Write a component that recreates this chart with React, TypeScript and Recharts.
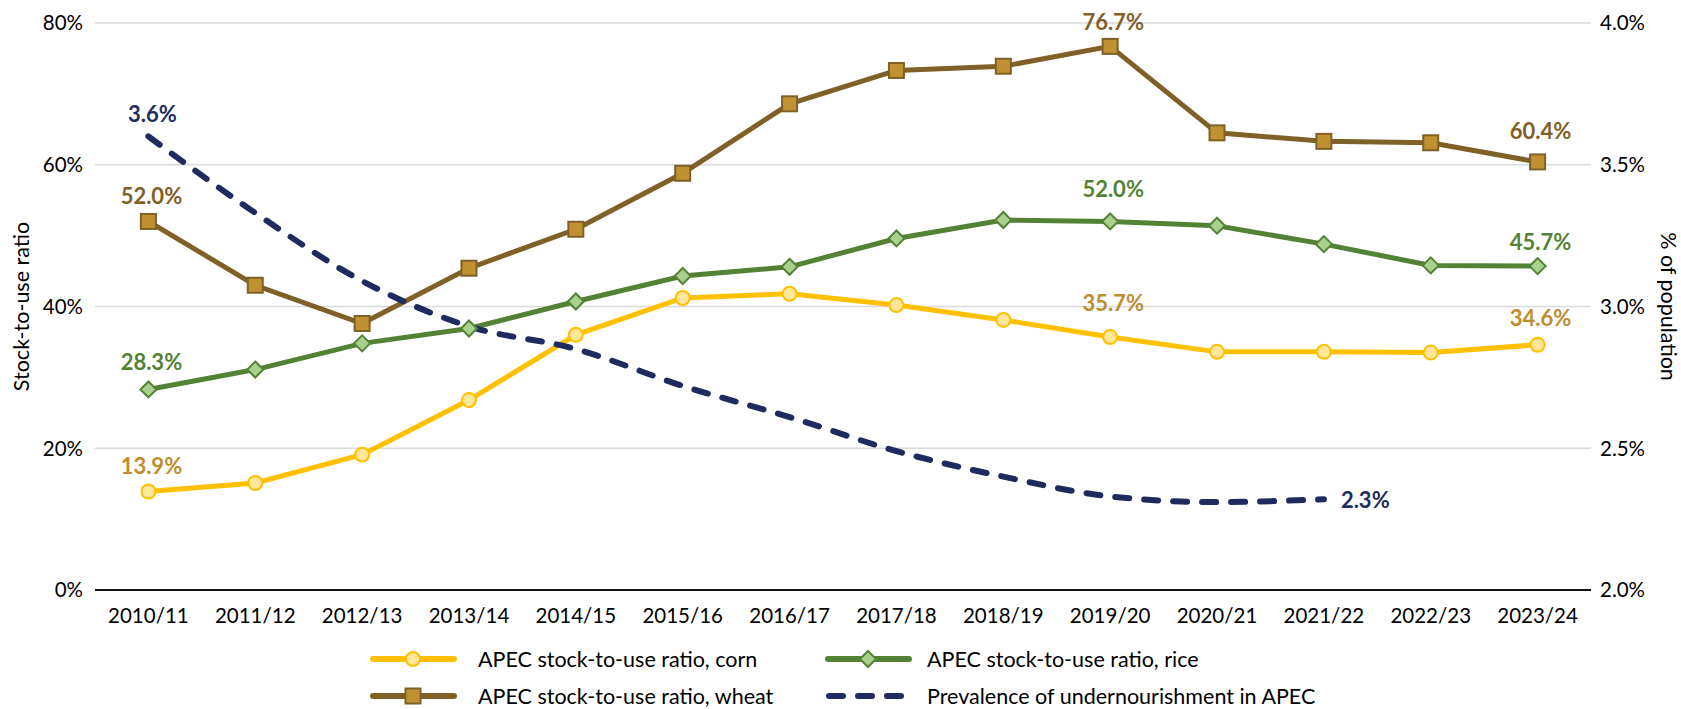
import React from "react";
import { LineChart, Line, XAxis, YAxis, CartesianGrid, LabelList, Label } from "recharts";

const seasons = [
  "2010/11", "2011/12", "2012/13", "2013/14", "2014/15", "2015/16", "2016/17",
  "2017/18", "2018/19", "2019/20", "2020/21", "2021/22", "2022/23", "2023/24",
];
const cornRatio = [13.9, 15.1, 19.1, 26.8, 36.0, 41.2, 41.8, 40.2, 38.1, 35.7, 33.6, 33.6, 33.5, 34.6];
const riceRatio = [28.3, 31.1, 34.8, 36.9, 40.7, 44.3, 45.6, 49.6, 52.2, 52.0, 51.4, 48.8, 45.8, 45.7];
const wheatRatio = [52.0, 43.0, 37.6, 45.4, 50.9, 58.8, 68.6, 73.3, 73.9, 76.7, 64.5, 63.3, 63.1, 60.4];
const undernourishment = [3.6, 3.33, 3.09, 2.93, 2.85, 2.72, 2.61, 2.49, 2.4, 2.33, 2.31, 2.32, null, null];
const leftTicks = [0, 20, 40, 60, 80];
const rightTicks = [2.0, 2.5, 3.0, 3.5, 4.0];

const data = seasons.map((season, i) => ({
  season,
  corn: cornRatio[i],
  rice: riceRatio[i],
  wheat: wheatRatio[i],
  pou: undernourishment[i],
}));

const FONT = "Lato, 'Open Sans', sans-serif";
const CORN = "#FFC000";
const CORN_FILL = "#FFE699";
const CORN_LABEL = "#BD8D2F";
const WHEAT = "#7F6128";
const WHEAT_FILL = "#BF9130";
const RICE = "#548235";
const RICE_FILL = "#A9D18E";
const NAVY = "#1F2B5E";

// which points get a value label, and how far above the point its centre sits
const cornLabels: Record<number, number> = { 0: 25, 9: 34, 13: 26 };
const riceLabels: Record<number, number> = { 0: 27, 9: 32, 13: 24 };
const wheatLabels: Record<number, number> = { 0: 25, 9: 24, 13: 31 };

function makeLabel(color: string, shown: Record<number, number>) {
  return (props: any) => {
    const { x, y, value, index } = props;
    if (!(index in shown) || value == null) return null;
    return (
      <text
        x={x + 3}
        y={y - shown[index]}
        dy="0.35em"
        textAnchor="middle"
        fill={color}
        fontFamily={FONT}
        fontWeight={700}
        fontSize={22}
      >
        {Number(value).toFixed(1)}%
      </text>
    );
  };
}

function pouLabel(props: any) {
  const { x, y, value, index } = props;
  if (value == null) return null;
  if (index === 0) {
    return (
      <text x={x + 4} y={y - 22} dy="0.35em" textAnchor="middle" fill={NAVY}
        fontFamily={FONT} fontWeight={700} fontSize={22}>
        {Number(value).toFixed(1)}%
      </text>
    );
  }
  if (index === 11) {
    return (
      <text x={x + 17} y={y + 1} dy="0.35em" textAnchor="start" fill={NAVY}
        fontFamily={FONT} fontWeight={700} fontSize={22}>
        {Number(value).toFixed(1)}%
      </text>
    );
  }
  return null;
}

function SquareDot(props: any) {
  const { cx, cy, index } = props;
  if (cx == null || cy == null) return <g key={index} />;
  return (
    <rect key={index} x={cx - 7.5} y={cy - 7.5} width={15} height={15}
      fill={WHEAT_FILL} stroke={WHEAT} strokeWidth={2} />
  );
}

function DiamondDot(props: any) {
  const { cx, cy, index } = props;
  if (cx == null || cy == null) return <g key={index} />;
  const r = 8;
  return (
    <polygon key={index}
      points={`${cx},${cy - r} ${cx + r},${cy} ${cx},${cy + r} ${cx - r},${cy}`}
      fill={RICE_FILL} stroke={RICE} strokeWidth={2} />
  );
}

function LegendIcon({ kind }: { kind: string }) {
  if (kind === "pou") {
    return (
      <svg width={88} height={20}>
        <line x1={4} y1={10} x2={84} y2={10} stroke={NAVY} strokeWidth={6}
          strokeLinecap="round" strokeDasharray="14 15" />
      </svg>
    );
  }
  const color = kind === "corn" ? CORN : kind === "rice" ? RICE : WHEAT;
  return (
    <svg width={88} height={20}>
      <line x1={3} y1={10} x2={84} y2={10} stroke={color} strokeWidth={6} strokeLinecap="round" />
      {kind === "corn" && <circle cx={43} cy={10} r={7} fill={CORN_FILL} stroke={CORN} strokeWidth={2} />}
      {kind === "wheat" && <rect x={35.5} y={2.5} width={15} height={15} fill={WHEAT_FILL} stroke={WHEAT} strokeWidth={2} />}
      {kind === "rice" && (
        <polygon points="43,2 51,10 43,18 35,10" fill={RICE_FILL} stroke={RICE} strokeWidth={2} />
      )}
    </svg>
  );
}

const legendItems = [
  { kind: "corn", name: "APEC stock-to-use ratio, corn", col: 0, row: 0 },
  { kind: "rice", name: "APEC stock-to-use ratio, rice", col: 1, row: 0 },
  { kind: "wheat", name: "APEC stock-to-use ratio, wheat", col: 0, row: 1 },
  { kind: "pou", name: "Prevalence of undernourishment in APEC", col: 1, row: 1 },
];

export default function App() {
  return (
    <div style={{ position: "absolute", left: 0, top: 0, width: 1681, height: 709, background: "#fff", overflow: "hidden" }}>
      <LineChart
        width={1681}
        height={709}
        data={data}
        margin={{ top: 23, right: 0, bottom: 79, left: 0 }}
      >
        <CartesianGrid yAxisId="left" vertical={false} stroke="#D9D9D9" strokeWidth={1.5} />
        <XAxis
          dataKey="season"
          interval={0}
          height={40}
          padding={{ left: 53.4, right: 53.4 }}
          tickLine={false}
          tickMargin={12}
          axisLine={{ stroke: "#111", strokeWidth: 2 }}
          tick={{ fontSize: 20.5, fill: "#000", fontFamily: FONT }}
        />
        <YAxis
          yAxisId="left"
          width={95}
          domain={[0, 80]}
          ticks={leftTicks}
          tickFormatter={(v) => `${v}%`}
          axisLine={false}
          tickLine={false}
          tickMargin={6}
          tick={{ fontSize: 20.5, fill: "#000", fontFamily: FONT }}
        >
          <Label
            content={(p: any) => {
              const vb = p.viewBox || { x: 0, y: 23, width: 95, height: 567 };
              const cy = vb.y + vb.height / 2;
              return (
                <text transform={`translate(21, ${cy}) rotate(-90)`} textAnchor="middle"
                  dy="0.35em" fill="#000" fontFamily={FONT} fontSize={21.5}>
                  Stock-to-use ratio
                </text>
              );
            }}
          />
        </YAxis>
        <YAxis
          yAxisId="right"
          orientation="right"
          width={90}
          domain={[2, 4]}
          ticks={rightTicks}
          tickFormatter={(v) => `${Number(v).toFixed(1)}%`}
          axisLine={false}
          tickLine={false}
          tickMargin={3}
          tick={{ fontSize: 20.5, fill: "#000", fontFamily: FONT }}
        >
          <Label
            content={(p: any) => {
              const vb = p.viewBox || { x: 1591, y: 23, width: 90, height: 567 };
              const cy = vb.y + vb.height / 2;
              return (
                <text transform={`translate(1669, ${cy}) rotate(90)`} textAnchor="middle"
                  dy="0.35em" fill="#000" fontFamily={FONT} fontSize={21.5}>
                  % of population
                </text>
              );
            }}
          />
        </YAxis>
        <Line
          yAxisId="left"
          type="linear"
          dataKey="corn"
          name="APEC stock-to-use ratio, corn"
          stroke={CORN}
          strokeWidth={5}
          dot={{ r: 7, fill: CORN_FILL, stroke: CORN, strokeWidth: 2 }}
          isAnimationActive={false}
        >
          <LabelList dataKey="corn" content={makeLabel(CORN_LABEL, cornLabels)} />
        </Line>
        <Line
          yAxisId="left"
          type="linear"
          dataKey="rice"
          name="APEC stock-to-use ratio, rice"
          stroke={RICE}
          strokeWidth={5}
          dot={DiamondDot}
          isAnimationActive={false}
        >
          <LabelList dataKey="rice" content={makeLabel(RICE, riceLabels)} />
        </Line>
        <Line
          yAxisId="left"
          type="linear"
          dataKey="wheat"
          name="APEC stock-to-use ratio, wheat"
          stroke={WHEAT}
          strokeWidth={5}
          dot={SquareDot}
          isAnimationActive={false}
        >
          <LabelList dataKey="wheat" content={makeLabel(WHEAT, wheatLabels)} />
        </Line>
        <Line
          yAxisId="right"
          type="monotone"
          dataKey="pou"
          name="Prevalence of undernourishment in APEC"
          stroke={NAVY}
          strokeWidth={6}
          strokeLinecap="round"
          strokeDasharray="14 15"
          dot={false}
          isAnimationActive={false}
        >
          <LabelList dataKey="pou" content={pouLabel} />
        </Line>
      </LineChart>
      {legendItems.map((item) => (
        <div
          key={item.kind}
          style={{
            position: "absolute",
            left: item.col === 0 ? 370 : 825,
            top: (item.row === 0 ? 659 : 696) - 12,
            height: 24,
            lineHeight: "24px",
            display: "flex",
            alignItems: "center",
            fontFamily: FONT,
            fontSize: 21.5,
            color: "#000",
            whiteSpace: "nowrap",
          }}
        >
          <LegendIcon kind={item.kind} />
          <span style={{ marginLeft: item.col === 0 ? 20 : 14 }}>{item.name}</span>
        </div>
      ))}
    </div>
  );
}
